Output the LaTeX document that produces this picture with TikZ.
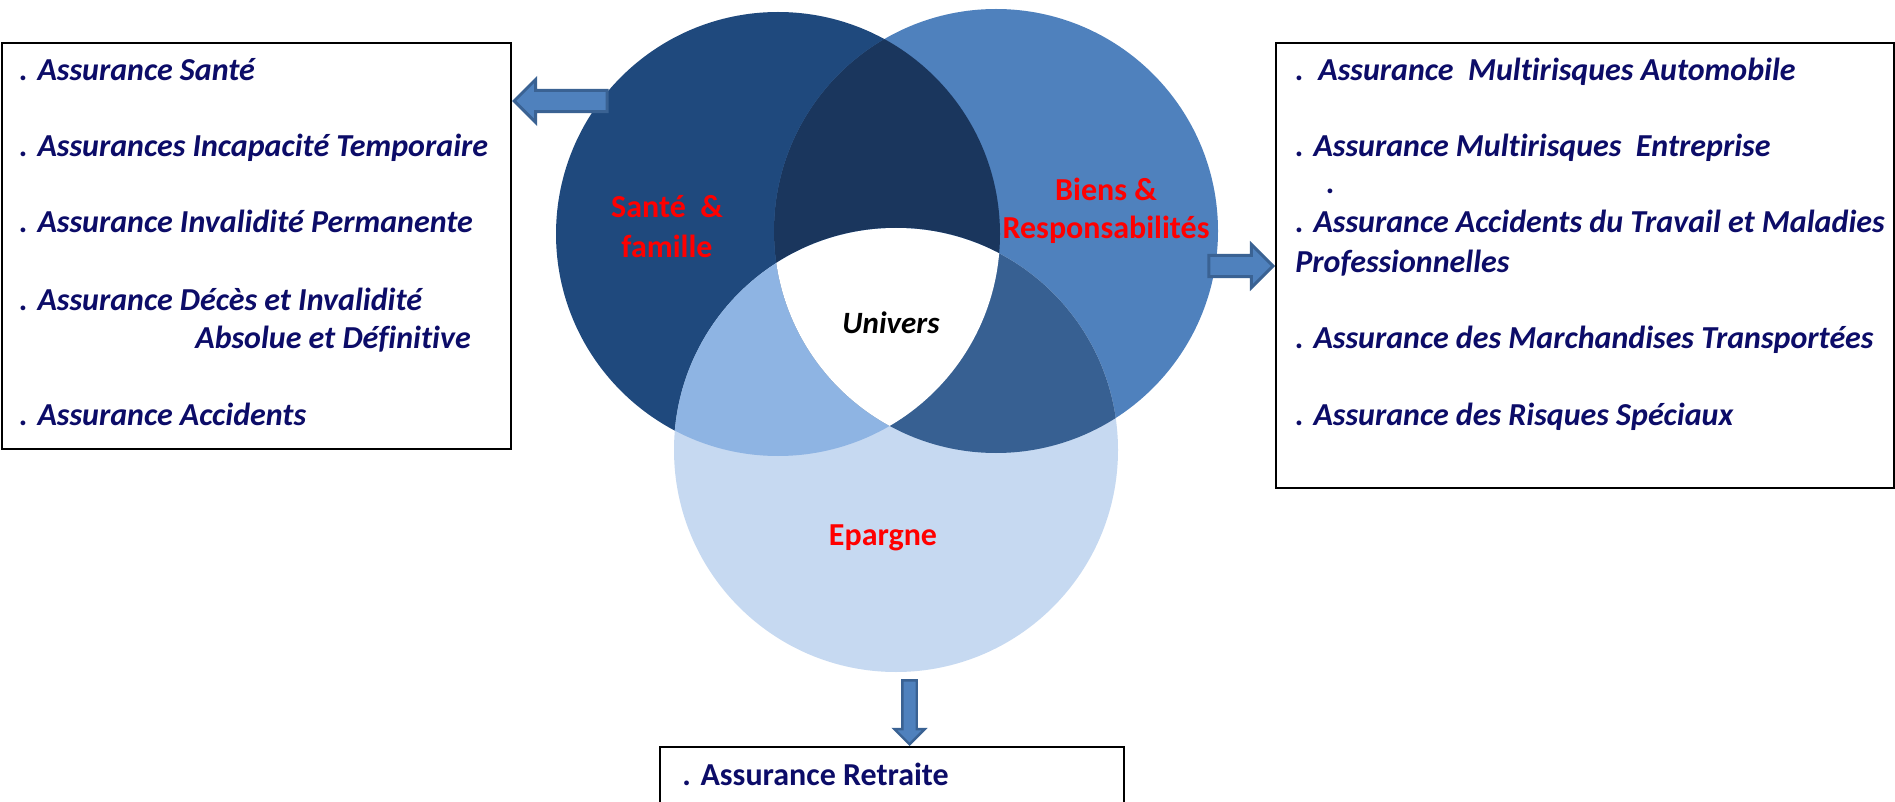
\documentclass[tikz,border=0pt]{standalone}
\usepackage{fontspec}
\setmainfont{Carlito}[Ligatures=CommonOff]
\usetikzlibrary{shapes.arrows}
\definecolor{cA}{HTML}{1F497D}
\definecolor{cB}{HTML}{4F81BD}
\definecolor{cC}{HTML}{C6D9F1}
\definecolor{cAB}{HTML}{1A365D}
\definecolor{cAC}{HTML}{8EB4E3}
\definecolor{cBC}{HTML}{376092}
\definecolor{arrfill}{HTML}{4F81BD}
\definecolor{arrline}{HTML}{3A6293}
\definecolor{navytxt}{HTML}{0C0C68}
\definecolor{lblred}{HTML}{FF0000}
\begin{document}
\begin{tikzpicture}[x=0.5pt,y=-0.5pt,
  listtxt/.style={anchor=base west, inner sep=0, text=navytxt, font=\fontsize{16}{19}\selectfont\bfseries\itshape},
  lbl/.style={anchor=base, inner sep=0, text=lblred, font=\fontsize{16}{19}\selectfont\bfseries},
  listbox/.style={draw=black, line width=1pt, fill=white, anchor=north west, inner sep=0},
  blockarrow/.style={single arrow, draw=arrline, fill=arrfill, line width=1.5pt, inner xsep=0pt, inner ysep=4.6pt, single arrow head extend=5.4pt, single arrow tip angle=90}
]
\useasboundingbox[fill=white] (0,0) rectangle (1895,802);

% boxes
\node[listbox, minimum width=254.5pt, minimum height=203pt] (lbox) at (1,42) {};
\node[listbox, minimum width=309pt, minimum height=222.5pt] (rbox) at (1275,42) {};
\node[listbox, minimum width=232pt, minimum height=60pt] (bbox) at (659,746) {};

% centres
\coordinate (C1) at (778,234);
\coordinate (C2) at (996,231);
\coordinate (C3) at (896,450);

% Venn
\fill[cA] (C1) circle[radius=111pt];
\fill[cB] (C2) circle[radius=111pt];
\fill[cC] (C3) circle[radius=111pt];
\begin{scope}
  \clip (C1) circle[radius=111pt];
  \fill[cAB] (C2) circle[radius=111pt];
  \fill[cAC] (C3) circle[radius=111pt];
\end{scope}
\begin{scope}
  \clip (C2) circle[radius=111pt];
  \fill[cBC] (C3) circle[radius=111pt];
  \clip (C3) circle[radius=111pt];
  \fill[white] (C1) circle[radius=111pt];
\end{scope}

% arrows
\coordinate (lay) at (0,101);
\node[blockarrow, rotate=180, minimum height=46.5pt, anchor=tip] (larr) at (lbox.east |- lay) {};
\coordinate (ray) at (0,266);
\node[blockarrow, minimum height=32pt, anchor=tip] (rarr) at (rbox.west |- ray) {};
\coordinate (dax) at (909.5,0);
\node[blockarrow, rotate=-90, line width=1.2pt, inner ysep=3pt, single arrow head extend=4pt, minimum height=32pt, anchor=tip] (darr) at (bbox.north -| dax) {};

% circle labels
\node[lbl] (s1) at (667,218) {Santé\ \ \&};
\node[lbl] (s2) at (667,257) {famille};
\node[lbl] (b1) at (1106,201) {Biens \&};
\node[lbl] (b2) at (1106,239) {Responsabilités};
\node[lbl, text=black, font=\fontsize{15.5}{18}\selectfont\bfseries\itshape] (u) at (891,334) {Univers};
\node[lbl] (e) at (883,545) {Epargne};

% left list
\node[listtxt] (l1) at (19,81) {. Assurance Santé};
\node[listtxt] (l2) at (19,157) {. Assurances Incapacité Temporaire};
\node[listtxt] (l3) at (19,233) {. Assurance Invalidité Permanente};
\node[listtxt] (l4) at (19,310) {. Assurance Décès et Invalidité};
\node[listtxt] (l5) at (195,349) {Absolue et Définitive};
\node[listtxt] (l6) at (19,425) {. Assurance Accidents};

% right list
\node[listtxt] (r1) at (1295,81) {.\ \ Assurance\ \ Multirisques Automobile};
\node[listtxt] (r2) at (1295,157) {. Assurance Multirisques\ \ Entreprise};
\node[listtxt] (r3) at (1326,194) {.};
\node[listtxt] (r4) at (1295,233) {. Assurance Accidents du Travail et Maladies};
\node[listtxt] (r5) at (1295,272) {Professionnelles};
\node[listtxt] (r6) at (1295,349) {. Assurance des Marchandises Transportées};
\node[listtxt] (r7) at (1295,425) {. Assurance des Risques Spéciaux};

% bottom
\node[listtxt, font=\fontsize{16}{19}\selectfont\bfseries] (bt) at (682,785) {. Assurance Retraite};
\end{tikzpicture}
\end{document}
